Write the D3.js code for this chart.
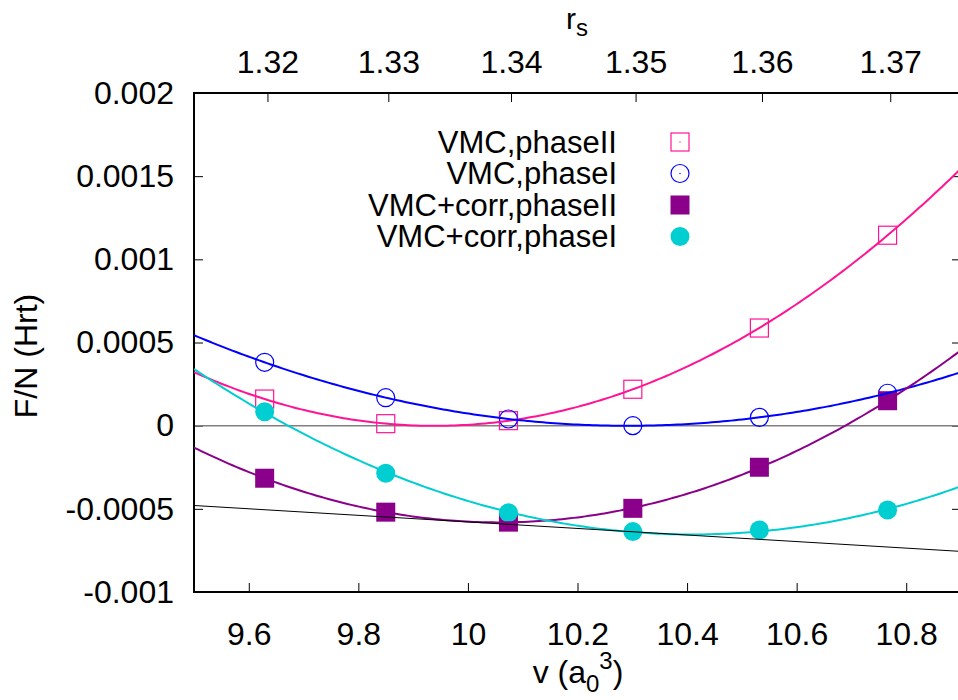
<!DOCTYPE html>
<html>
<head>
<meta charset="utf-8">
<script src="https://cdn.jsdelivr.net/npm/d3@7/dist/d3.min.js"></script>
<style>
  body { margin: 0; background: #fff; }
  text { font-family: "Liberation Sans", Arial, Helvetica, sans-serif; fill: #000; }
</style>
</head>
<body>
<svg id="chart" width="958" height="700"></svg>
<script>
// ---- data ----
const volumes = [9.629, 9.850, 10.074, 10.301, 10.532, 10.766];
const seriesNames = ["VMC,phaseII", "VMC,phaseI", "VMC+corr,phaseII", "VMC+corr,phaseI"];
const vmcPhaseII = [0.00016, 0.000012, 0.00003, 0.000219, 0.000587, 0.001145];
const vmcPhaseI = [0.000381, 0.000168, 0.00004, 0.0, 0.00005, 0.000195];
const corrPhaseII = [-0.000316, -0.00052, -0.00058, -0.000497, -0.00025, 0.00015];
const corrPhaseI = [0.000084, -0.000286, -0.000523, -0.000637, -0.000627, -0.000507];
const tangentV = [9.5, 10.9];
const tangentF = [-0.00048, -0.000756];
const xTicks = [9.6, 9.8, 10.0, 10.2, 10.4, 10.6, 10.8];
const xTickLabels = ["9.6", "9.8", "10", "10.2", "10.4", "10.6", "10.8"];
const yTicks = [0.002, 0.0015, 0.001, 0.0005, 0, -0.0005, -0.001];
const yTickLabels = ["0.002", "0.0015", "0.001", "0.0005", "0", "-0.0005", "-0.001"];
const rsTicks = [1.32, 1.33, 1.34, 1.35, 1.36, 1.37];
const rsTickLabels = ["1.32", "1.33", "1.34", "1.35", "1.36", "1.37"];
const xDomain = [9.5, 10.9];
const yDomain = [-0.001, 0.002];

// ---- layout ----
const L = 194, R = 961, T = 93, B = 592;
const FS = 32;
const svg = d3.select("#chart");

const x = d3.scaleLinear().domain(xDomain).range([L, R]);
const y = d3.scaleLinear().domain(yDomain).range([B, T]);
const rOf = v => Math.cbrt(v * 3 / (4 * Math.PI));
const xr = d3.scalePow().exponent(3).domain([rOf(xDomain[0]), rOf(xDomain[1])]).range([L, R]);

// clip
svg.append("defs").append("clipPath").attr("id", "clip")
  .append("rect").attr("x", L).attr("y", T).attr("width", R - L).attr("height", B - T);

// axes
function styleAxis(g) {
  g.select(".domain").remove();
  g.selectAll(".tick line").attr("stroke", "#000").attr("stroke-width", 1);
  g.selectAll(".tick text").attr("font-size", FS).attr("font-family", "Liberation Sans, Arial, sans-serif");
}
const xAxis = svg.append("g").attr("transform", `translate(0,${B})`)
  .call(d3.axisBottom(x).tickValues(xTicks).tickFormat((d, i) => xTickLabels[i])
    .tickSizeInner(-9).tickSizeOuter(0).tickPadding(30));
styleAxis(xAxis);
xAxis.selectAll(".tick text").attr("dy", "0.71em");

const yAxis = svg.append("g").attr("transform", `translate(${L},0)`)
  .call(d3.axisLeft(y).tickValues(yTicks).tickFormat((d, i) => yTickLabels[i])
    .tickSizeInner(-9).tickSizeOuter(0).tickPadding(20));
styleAxis(yAxis);

const yAxisR = svg.append("g").attr("transform", `translate(${R},0)`)
  .call(d3.axisRight(y).tickValues(yTicks).tickFormat("").tickSizeInner(-9).tickSizeOuter(0));
styleAxis(yAxisR);

const topAxis = svg.append("g").attr("transform", `translate(0,${T})`)
  .call(d3.axisTop(xr).tickValues(rsTicks).tickFormat((d, i) => rsTickLabels[i])
    .tickSizeInner(-9).tickSizeOuter(0).tickPadding(20));
styleAxis(topAxis);

// zero line
svg.append("line").attr("x1", L).attr("x2", R).attr("y1", y(0)).attr("y2", y(0))
  .attr("stroke", "#808080").attr("stroke-width", 1.5);

// frame
svg.append("rect").attr("x", L).attr("y", T).attr("width", R - L).attr("height", B - T)
  .attr("fill", "none").attr("stroke", "#000").attr("stroke-width", 2);

// axis titles
svg.append("text").attr("transform", `translate(37,356) rotate(-90)`)
  .attr("text-anchor", "middle").attr("font-size", FS).text("F/N (Hrt)");

const xl = svg.append("text").attr("x", 578).attr("y", 683).attr("text-anchor", "middle").attr("font-size", FS);
xl.append("tspan").text("v (a");
xl.append("tspan").attr("font-size", 24).attr("dy", 9).text("0");
xl.append("tspan").attr("font-size", 24).attr("dy", -23).text("3");
xl.append("tspan").attr("dy", 14).text(")");

const rl = svg.append("text").attr("x", 577).attr("y", 29).attr("text-anchor", "middle").attr("font-size", 30);
rl.append("tspan").text("r");
rl.append("tspan").attr("font-size", 24).attr("dy", 7).text("s");

// series definitions
const series = [
  { name: seriesNames[0], vals: vmcPhaseII, color: "#ff1493", type: "openSquare" },
  { name: seriesNames[1], vals: vmcPhaseI, color: "#0000ff", type: "openCircle" },
  { name: seriesNames[2], vals: corrPhaseII, color: "#8b008b", type: "filledSquare" },
  { name: seriesNames[3], vals: corrPhaseI, color: "#00ced1", type: "filledCircle" }
];

// least-squares quadratic fit
function quadFit(xs, ys) {
  const n = xs.length, m = d3.mean(xs);
  let S = [[0,0,0],[0,0,0],[0,0,0]], b = [0,0,0];
  for (let i = 0; i < n; i++) {
    const t = xs[i] - m, p = [1, t, t*t];
    for (let r = 0; r < 3; r++) { b[r] += p[r]*ys[i]; for (let c = 0; c < 3; c++) S[r][c] += p[r]*p[c]; }
  }
  for (let k = 0; k < 3; k++) {
    for (let r = k + 1; r < 3; r++) {
      const f = S[r][k] / S[k][k];
      for (let c = k; c < 3; c++) S[r][c] -= f * S[k][c];
      b[r] -= f * b[k];
    }
  }
  const c = [0,0,0];
  for (let k = 2; k >= 0; k--) {
    let s = b[k];
    for (let j = k + 1; j < 3; j++) s -= S[k][j] * c[j];
    c[k] = s / S[k][k];
  }
  return v => { const t = v - m; return c[0] + c[1]*t + c[2]*t*t; };
}

function drawMarker(g, type, cx, cy, color) {
  if (type === "openSquare") {
    g.append("rect").attr("x", cx - 9).attr("y", cy - 9).attr("width", 18).attr("height", 18)
      .attr("fill", "none").attr("stroke", color).attr("stroke-width", 1.2);
    g.append("rect").attr("x", cx - 0.6).attr("y", cy - 0.6).attr("width", 1.2).attr("height", 1.2).attr("fill", color);
  } else if (type === "openCircle") {
    g.append("circle").attr("cx", cx).attr("cy", cy).attr("r", 9)
      .attr("fill", "none").attr("stroke", color).attr("stroke-width", 1.2);
    g.append("rect").attr("x", cx - 0.6).attr("y", cy - 0.6).attr("width", 1.2).attr("height", 1.2).attr("fill", color);
  } else if (type === "filledSquare") {
    g.append("rect").attr("x", cx - 9.5).attr("y", cy - 9.5).attr("width", 19).attr("height", 19).attr("fill", color);
  } else {
    g.append("circle").attr("cx", cx).attr("cy", cy).attr("r", 9.5).attr("fill", color);
  }
}

// points
const pts = svg.append("g").attr("clip-path", "url(#clip)");
series.forEach(s => {
  s.vals.forEach((f, i) => drawMarker(pts, s.type, x(volumes[i]), y(f), s.color));
});

// fit curves
const lines = svg.append("g").attr("clip-path", "url(#clip)");
const samples = d3.range(0, 201).map(i => xDomain[0] + (xDomain[1] - xDomain[0]) * i / 200);
const lineGen = d3.line().x(d => x(d[0])).y(d => y(d[1]));
series.forEach(s => {
  const f = quadFit(volumes, s.vals);
  lines.append("path").attr("d", lineGen(samples.map(v => [v, f(v)])))
    .attr("fill", "none").attr("stroke", s.color).attr("stroke-width", 2);
});
// common tangent line
lines.append("path").attr("d", lineGen(tangentV.map((v, i) => [v, tangentF[i]])))
  .attr("fill", "none").attr("stroke", "#000").attr("stroke-width", 1);

// legend
const legRows = [142, 173.5, 205, 236.5];
const leg = svg.append("g");
series.forEach((s, i) => {
  leg.append("text").attr("x", 617).attr("y", legRows[i]).attr("dy", "0.35em")
    .attr("text-anchor", "end").attr("font-size", 31).text(s.name);
  drawMarker(leg, s.type, 680, legRows[i], s.color);
});
</script>
</body>
</html>
